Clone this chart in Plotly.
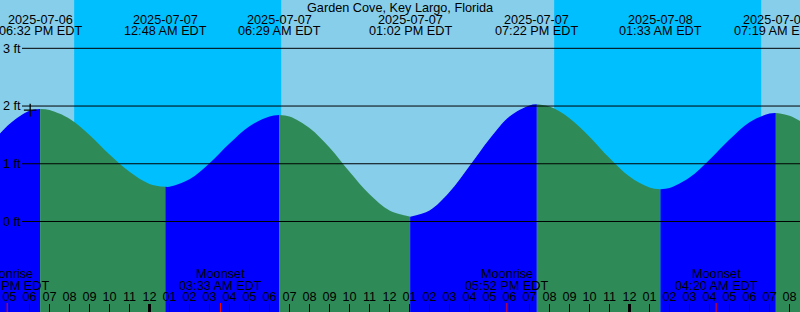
import plotly.graph_objects as go
import pandas as pd

# ---------------- data ----------------
hour_times = [str(t) for t in pd.date_range("2025-07-06 16:00", "2025-07-08 09:00", freq="h")]
hour_levels = [1.31, 1.69, 1.92, 1.93, 1.78, 1.50, 1.16, 0.86, 0.65, 0.60,
               0.73, 1.01, 1.35, 1.65, 1.82, 1.82, 1.62, 1.28, 0.86, 0.47,
               0.19, 0.085, 0.19, 0.51, 0.96, 1.43, 1.82, 2.01, 1.99, 1.79,
               1.47, 1.10, 0.78, 0.59, 0.58, 0.76, 1.07, 1.42, 1.72, 1.87,
               1.83, 1.64]

tide_times = ["2025-07-06 18:32", "2025-07-07 00:48", "2025-07-07 06:29",
              "2025-07-07 13:02", "2025-07-07 19:22", "2025-07-08 01:33",
              "2025-07-08 07:19"]
tide_levels = [1.95, 0.60, 1.845, 0.083, 2.03, 0.56, 1.88]
tide_dates = ["2025-07-06", "2025-07-07", "2025-07-07", "2025-07-07",
              "2025-07-07", "2025-07-08", "2025-07-08"]
tide_clock = ["06:32 PM EDT", "12:48 AM EDT", "06:29 AM EDT", "01:02 PM EDT",
              "07:22 PM EDT", "01:33 AM EDT", "07:19 AM EDT"]

moon_times = ["2025-07-06 16:53", "2025-07-07 03:33", "2025-07-07 17:52", "2025-07-08 04:20"]
moon_names = ["Moonrise", "Moonset", "Moonrise", "Moonset"]
moon_clock = ["04:53 PM EDT", "03:33 AM EDT", "05:52 PM EDT", "04:20 AM EDT"]

sunsets = ["2025-07-06 20:14", "2025-07-07 20:14"]
sunrises = ["2025-07-07 06:35", "2025-07-08 06:35"]
midnights = ["2025-07-07 00:00", "2025-07-08 00:00"]

now_time = ["2025-07-06 18:02"]
now_level = [1.93]

y_ticks = [0, 1, 2, 3]
y_tick_text = ["0 ft", "1 ft", "2 ft", "3 ft"]

title = "Garden Cove, Key Largo, Florida"
x_range = ["2025-07-06 16:31:30", "2025-07-08 08:31:30"]
y_range = [-1.568, 3.837]

# ---------------- styling ----------------
DAY = "#87CEEB"
NIGHT = "#00BFFF"
RISE = "#0000FF"
FALL = "#2E8B57"
FONT = dict(family="Liberation Sans, Arial, sans-serif", size=12.7, color="#000000")
W, H = 800, 312

# merge curve samples with extremes
pts = sorted([(pd.Timestamp(t), v, False) for t, v in zip(hour_times, hour_levels)] +
             [(pd.Timestamp(t), v, True) for t, v in zip(tide_times, tide_levels)],
             key=lambda p: p[0])
ext_idx = [i for i, p in enumerate(pts) if p[2]]
bounds = [0] + ext_idx + [len(pts) - 1]

fig = go.Figure()
for a, b in zip(bounds[:-1], bounds[1:]):
    seg = pts[a:b + 1]
    xs = [p[0] for p in seg]
    ys = [p[1] for p in seg]
    col = RISE if ys[-1] > ys[0] else FALL
    fig.add_trace(go.Scatter(x=[xs[0], xs[-1]], y=[y_range[0], y_range[0]],
                             mode="lines", line=dict(width=0), hoverinfo="skip",
                             showlegend=False))
    fig.add_trace(go.Scatter(x=xs, y=ys, mode="lines", fill="tonexty",
                             fillcolor=col, line=dict(width=0, shape="spline", color=col),
                             hoverinfo="skip", showlegend=False))

fig.add_trace(go.Scatter(x=now_time, y=now_level, mode="markers",
                         marker=dict(symbol="cross-thin", size=9,
                                     line=dict(color="#000000", width=1.3)),
                         showlegend=False, hoverinfo="skip"))

shapes = []
for s, r in zip(sunsets, sunrises):
    shapes.append(dict(type="rect", xref="x", yref="paper", x0=s, x1=r, y0=0, y1=1,
                       fillcolor=NIGHT, line=dict(width=0), layer="below"))
for v in y_ticks:
    shapes.append(dict(type="line", xref="paper", yref="y", x0=22 / W, x1=1, y0=v, y1=v,
                       line=dict(color="#000000", width=1), layer="above"))
for m in midnights:
    shapes.append(dict(type="line", xref="x", yref="paper", x0=m, x1=m, y0=0, y1=8 / H,
                       line=dict(color="#000000", width=3), layer="above"))
for m in moon_times:
    shapes.append(dict(type="line", xref="x", yref="paper", x0=m, x1=m, y0=0, y1=9 / H,
                       line=dict(color="#FF0000", width=1), layer="above"))

ann = [dict(text=title, x=0.5, y=1 - 7.5 / H, xref="paper", yref="paper",
            showarrow=False, xanchor="center", yanchor="middle", font=FONT)]
for t, d, c in zip(tide_times, tide_dates, tide_clock):
    ann.append(dict(text=d, x=t, y=1 - 19.5 / H, xref="x", yref="paper",
                    showarrow=False, xanchor="center", yanchor="middle", font=FONT))
    ann.append(dict(text=c, x=t, y=1 - 31.5 / H, xref="x", yref="paper",
                    showarrow=False, xanchor="center", yanchor="middle", font=FONT))
for t, n, c in zip(moon_times, moon_names, moon_clock):
    ann.append(dict(text=n, x=t, y=1 - 273.5 / H, xref="x", yref="paper",
                    showarrow=False, xanchor="center", yanchor="middle", font=FONT))
    ann.append(dict(text=c, x=t, y=1 - 286 / H, xref="x", yref="paper",
                    showarrow=False, xanchor="center", yanchor="middle", font=FONT))

fig.update_layout(
    width=W, height=H, margin=dict(l=0, r=0, t=0, b=0),
    paper_bgcolor=DAY, plot_bgcolor=DAY,
    shapes=shapes, annotations=ann, showlegend=False,
    xaxis=dict(type="date", range=x_range, showgrid=False, zeroline=False,
               showline=False, ticks="inside", ticklen=8, tickwidth=1,
               tickcolor="#000000", dtick=3600000, tick0="2025-07-07 00:00",
               tickformat="%I", ticklabelposition="inside",
               ticklabeloverflow="allow", tickfont=FONT,
               fixedrange=True),
    yaxis=dict(range=y_range, showgrid=False, zeroline=False, showline=False,
               tickvals=y_ticks, ticktext=y_tick_text, ticks="",
               ticklabelposition="inside", ticklabeloverflow="allow",
               tickfont=FONT, fixedrange=True),
)
fig.write_html("out.html", config={"displayModeBar": False})
